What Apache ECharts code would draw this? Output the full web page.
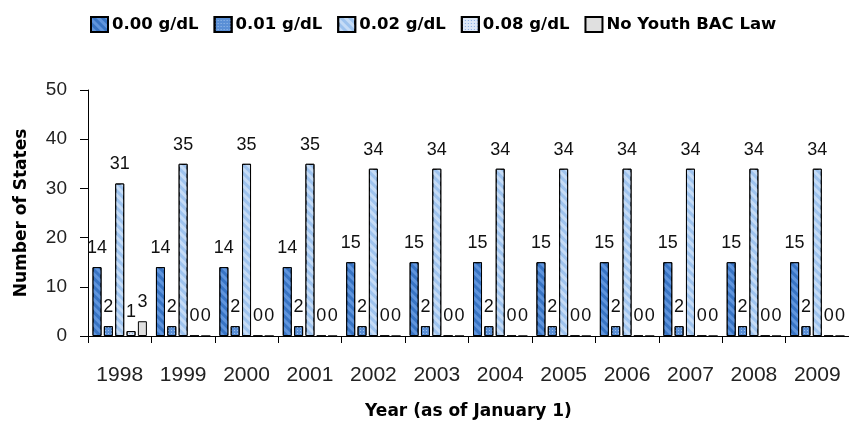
<!DOCTYPE html>
<html><head><meta charset="utf-8">
<script src="https://cdn.jsdelivr.net/npm/echarts@6/dist/echarts.min.js"></script>
<style>html,body{margin:0;padding:0;background:#fff}#c{width:849px;height:425px}</style>
</head><body><div id="c"></div>
<script>
const years = ['1998','1999','2000','2001','2002','2003','2004','2005','2006','2007','2008','2009'];
const seriesNames = ['0.00 g/dL','0.01 g/dL','0.02 g/dL','0.08 g/dL','No Youth BAC Law'];
const v000 = [14,14,14,14,15,15,15,15,15,15,15,15];
const v001 = [2,2,2,2,2,2,2,2,2,2,2,2];
const v002 = [31,35,35,35,34,34,34,34,34,34,34,34];
const v008 = [1,0,0,0,0,0,0,0,0,0,0,0];
const vNone = [3,0,0,0,0,0,0,0,0,0,0,0];
const yTicks = [0,10,20,30,40,50];

const values = [v000, v001, v002, v008, vNone];
const colors = ['#3874c4','#5a8fd6','#9ec3ee','#dde8f8','#e0e0e0'];
function stripes(c){return {symbol:'rect', dashArrayX:[1,0], dashArrayY:[3,3], rotation:Math.PI/4, symbolSize:1, color:c};}
function dots(c){return {symbol:'rect', dashArrayX:[[1,2]], dashArrayY:[1,2], symbolSize:1, color:c};}
const decals = [
  stripes('rgba(110,160,230,0.75)'),
  dots('rgba(175,205,240,0.8)'),
  stripes('rgba(205,225,248,0.85)'),
  dots('rgba(110,155,220,0.8)'),
  null
];
const SANS = "'Liberation Sans', Arial, sans-serif";
const BOLD = "'DejaVu Sans', Verdana, sans-serif";

const chart = echarts.init(document.getElementById('c'));
chart.setOption({
  animation:false,
  textStyle:{fontFamily:SANS},
  legend:{
    top:11, left:85, itemWidth:17, itemHeight:15, itemGap:15,
    icon:'rect',
    textStyle:{fontSize:16.5, fontWeight:'bold', color:'#000', fontFamily:BOLD, padding:[0,0,0,-1]},
    data: seriesNames
  },
  grid:{left:88, top:90, width:765, height:251, containLabel:false},
  xAxis:{
    type:'category', data:years,
    axisLine:{lineStyle:{color:'#000'}},
    axisTick:{show:true, alignWithLabel:false, length:7, lineStyle:{color:'#000'}},
    axisLabel:{fontSize:21, color:'#222', margin:29, fontFamily:SANS},
    name:'Year (as of January 1)', nameLocation:'middle', nameGap:67,
    nameTextStyle:{fontSize:17, fontWeight:'bold', color:'#000', fontFamily:BOLD}
  },
  yAxis:{
    type:'value', min:0, max:50, interval:10,
    axisLine:{show:true, lineStyle:{color:'#000'}},
    axisTick:{show:true, length:8, lineStyle:{color:'#000'}},
    splitLine:{show:false},
    axisLabel:{fontSize:19, color:'#222', margin:21, fontFamily:SANS,
      formatter:function(v){return yTicks.indexOf(v)>=0? String(v):'';}},
    name:'Number of States', nameLocation:'middle', nameGap:58,
    nameTextStyle:{fontSize:17, fontWeight:'bold', color:'#000', fontFamily:BOLD}
  },
  series: seriesNames.map((n,i)=>{
    const st = {color:colors[i], borderColor:'#000', borderWidth:1};
    if (decals[i]) st.decal = decals[i];
    return {
      name:n, type:'bar', data:values[i],
      barWidth:9, barGap:'26%',
      itemStyle:st,
      label:{show:true, position:'top', distance:10, fontSize:18, color:'#111', fontFamily:SANS}
    };
  })
});
</script></body></html>
